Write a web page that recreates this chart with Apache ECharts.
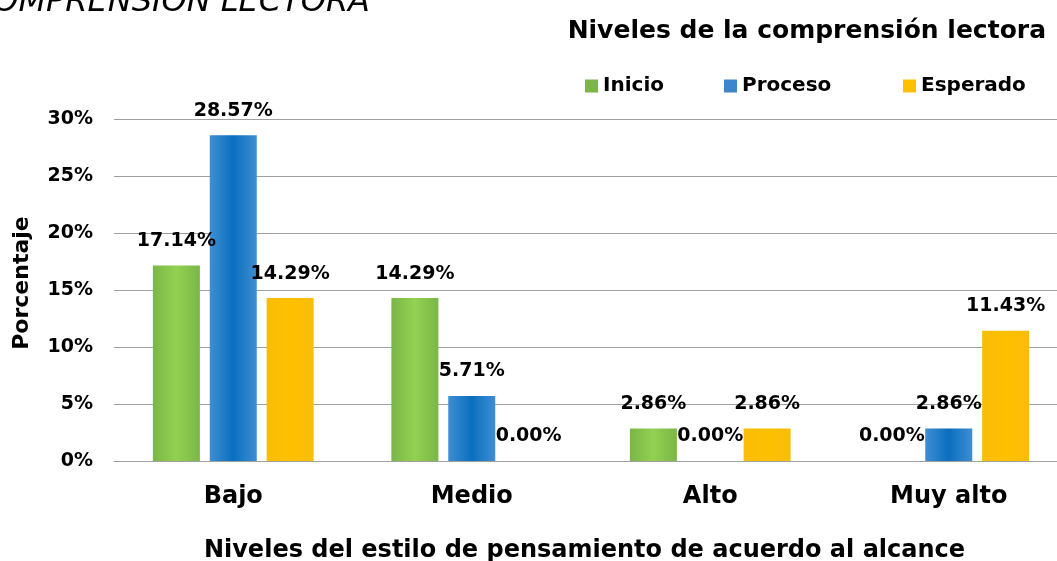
<!DOCTYPE html>
<html>
<head>
<meta charset="UTF-8">
<title>Niveles de la comprensión lectora</title>
<script src="https://cdn.jsdelivr.net/npm/echarts@6.0.0/dist/echarts.min.js"></script>
<style>
  body { margin: 0; padding: 0; background: #fff; overflow: hidden; }
  #main { width: 1057px; height: 561px; }
</style>
</head>
<body>
<div id="main"></div>
<script>
  // niveles del estilo de pensamiento (eje x)
  const categorias = ['Bajo', 'Medio', 'Alto', 'Muy alto'];
  // niveles de la comprension lectora (series)
  const inicio = [17.14, 14.29, 2.86, 0.00];
  const proceso = [28.57, 5.71, 0.00, 2.86];
  const esperado = [14.29, 0.00, 2.86, 11.43];
  const ticksY = [0, 5, 10, 15, 20, 25, 30];

  const FONT = 'DejaVu Sans';

  function grad(edge, mid) {
    return new echarts.graphic.LinearGradient(0, 0, 1, 0, [
      { offset: 0, color: edge },
      { offset: 0.5, color: mid },
      { offset: 1, color: edge }
    ]);
  }

  const labelCfg = {
    show: true,
    position: 'top',
    distance: 15,
    fontFamily: FONT,
    fontWeight: 'bold',
    fontSize: 19,
    color: '#000',
    formatter: p => p.value.toFixed(2) + '%'
  };

  function serie(name, data, edge, mid) {
    return {
      name: name,
      type: 'bar',
      data: data,
      barWidth: 47,
      barGap: '21%',
      itemStyle: { color: grad(edge, mid) },
      label: labelCfg,
      emphasis: { disabled: true }
    };
  }

  function leyenda(name, left, icon) {
    return {
      data: [{ name: name, itemStyle: { color: icon } }],
      left: left,
      top: 76,
      padding: 0,
      icon: 'rect',
      itemWidth: 13,
      itemHeight: 13,
      itemGap: 5,
      textStyle: { fontFamily: FONT, fontWeight: 'bold', fontSize: 20, color: '#000' },
      selectedMode: false
    };
  }

  const chart = echarts.init(document.getElementById('main'));
  chart.setOption({
    animation: false,
    title: {
      text: 'Niveles de la comprensión lectora',
      right: 6,
      top: 14,
      textStyle: { fontFamily: FONT, fontWeight: 'bold', fontSize: 25, color: '#000' }
    },
    legend: [
      leyenda('Inicio', 585, '#7cb547'),
      leyenda('Proceso', 724, '#3d86cc'),
      leyenda('Esperado', 903, '#ffc000')
    ],
    graphic: [{
      type: 'text',
      x: 370,
      y: 3,
      style: {
        text: 'COMPRENSIÓN LECTORA',
        align: 'right',
        verticalAlign: 'middle',
        fontFamily: FONT,
        fontStyle: 'italic',
        fontSize: 32,
        fill: '#000'
      }
    }],
    grid: { left: 114, width: 954, top: 119, bottom: 100, containLabel: false, outerBoundsMode: 'none' },
    xAxis: {
      type: 'category',
      data: categorias,
      name: 'Niveles del estilo de pensamiento de acuerdo al alcance',
      nameLocation: 'middle',
      nameGap: 78,
      nameTextStyle: { fontFamily: FONT, fontWeight: 'bold', fontSize: 24, color: '#000', padding: [0, 13, 0, 0] },
      axisLine: { lineStyle: { color: '#a0a0a0', width: 1 } },
      axisTick: { show: false },
      axisLabel: { margin: 24, fontFamily: FONT, fontWeight: 'bold', fontSize: 24, color: '#000' }
    },
    yAxis: {
      type: 'value',
      min: ticksY[0],
      max: ticksY[ticksY.length - 1],
      interval: 5,
      name: 'Porcentaje',
      nameLocation: 'middle',
      nameGap: 81,
      nameTextStyle: { fontFamily: FONT, fontWeight: 'bold', fontSize: 22, color: '#000', padding: [0, 0, 0, 14] },
      axisLine: { show: false },
      axisTick: { show: false },
      splitLine: { lineStyle: { color: '#a0a0a0', width: 1 } },
      axisLabel: {
        margin: 21,
        fontFamily: FONT,
        fontWeight: 'bold',
        fontSize: 19,
        color: '#000',
        formatter: v => v + '%'
      }
    },
    series: [
      serie('Inicio', inicio, '#7ab648', '#93d151'),
      serie('Proceso', proceso, '#3f8ed2', '#0a6fbf'),
      serie('Esperado', esperado, '#f8bd0a', '#ffc000')
    ]
  });
</script>
</body>
</html>
